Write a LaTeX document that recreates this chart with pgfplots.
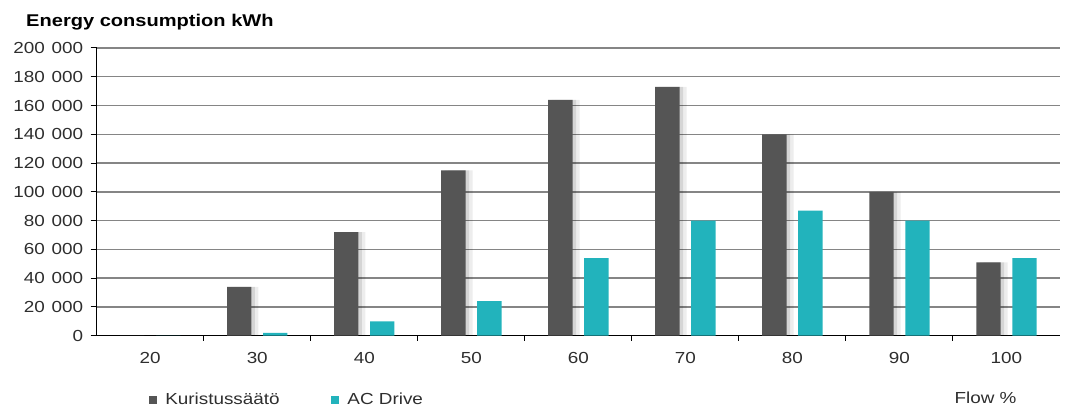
\documentclass[border=0pt]{standalone}
\usepackage{fontspec}
\setmainfont[FakeStretch=1.18]{Liberation Sans}
\usepackage{pgfplots}
\usepackage{pgfplotstable}
\pgfplotsset{compat=1.18}

\definecolor{throttle}{HTML}{555555}
\definecolor{acdrive}{HTML}{22B3BC}
\definecolor{gridgray}{HTML}{858585}
\definecolor{labelgray}{HTML}{2E2E2E}

% Annual energy consumption (kWh) by flow rate (%)
\pgfplotstableread{
idx flow kuristus acdrive
0   20   0       0
1   30   34000   2000
2   40   72000   10000
3   50   115000  24000
4   60   164000  54000
5   70   173000  80000
6   80   140000  87000
7   90   100000  80000
8   100  51000   54000
}\energy

\begin{document}
\begin{tikzpicture}
\begin{axis}[
  scale only axis,
  width=963.3pt, height=287.7pt,
  xmin=-0.5, xmax=8.5,
  ymin=0, ymax=200000,
  axis lines=left,
  axis line style={-, black, line width=1.1pt},
  ybar, bar width=24.4pt,
  xtick={0,...,8},
  xticklabels={20,30,40,50,60,70,80,90,100},
  major x tick style={draw=none},
  minor xtick={0.5,1.5,...,7.5},
  minor x tick style={black, line width=1pt},
  minor tick length=5pt,
  ytick={0,20000,...,200000},
  major y tick style={black, line width=1pt},
  major tick length=6pt,
  tick align=outside,
  scaled y ticks=false,
  yticklabel style={xshift=-4pt, /pgf/number format/.cd, fixed, precision=0,
    1000 sep={\hspace{0.42em}}, assume math mode=true},
  xticklabel style={yshift=-7pt},
  tick label style={font=\fontsize{16}{18}\selectfont, text=labelgray},
  ymajorgrids,
  major grid style={gridgray, line width=1.4pt},
  legend style={at={(rel axis cs:0,0)}, anchor=west, xshift=51.6pt, yshift=-64pt,
    draw=none, fill=none, inner sep=0pt, legend columns=2,
    font=\fontsize{16}{18}\selectfont, text=labelgray,
    nodes={inner sep=0pt},
    /tikz/every odd column/.append style={column sep=8.4pt},
    /tikz/every even column/.append style={column sep=51pt}},
  legend image code/.code={\fill[#1] (0pt,-4.2pt) rectangle (8.4pt,4.2pt);},
]
% soft drop shadow to the right of the dark bars
\addplot[fill=black, fill opacity=0.07, draw=none, bar shift=-11pt, forget plot]
  table[x=idx, y=kuristus] {\energy};
\addplot[fill=black, fill opacity=0.10, draw=none, bar shift=-14.5pt, forget plot]
  table[x=idx, y=kuristus] {\energy};

\addplot[fill=throttle, draw=none, bar shift=-18pt] table[x=idx, y=kuristus] {\energy};
\addlegendentry{Kuristussäätö}
\addplot[fill=acdrive, draw=none, bar shift=18pt] table[x=idx, y=acdrive] {\energy};
\addlegendentry{AC Drive}

\coordinate (O) at (rel axis cs:0,0);
\coordinate (TR) at (rel axis cs:1,1);
\end{axis}

\node[anchor=base west, font=\bfseries\fontsize{17}{20}\selectfont, text=black]
  at ([xshift=-74pt, yshift=21.3pt]O |- TR) {Energy consumption kWh};
\node[anchor=base east, font=\fontsize{16}{18}\selectfont, text=labelgray]
  at ([xshift=-40pt, yshift=-67.8pt]TR |- O) {Flow \%};

\path[use as bounding box] ([xshift=-96.7pt, yshift=-76.3pt]O) rectangle ([xshift=973.3pt, yshift=335.7pt]O);
\end{tikzpicture}
\end{document}
